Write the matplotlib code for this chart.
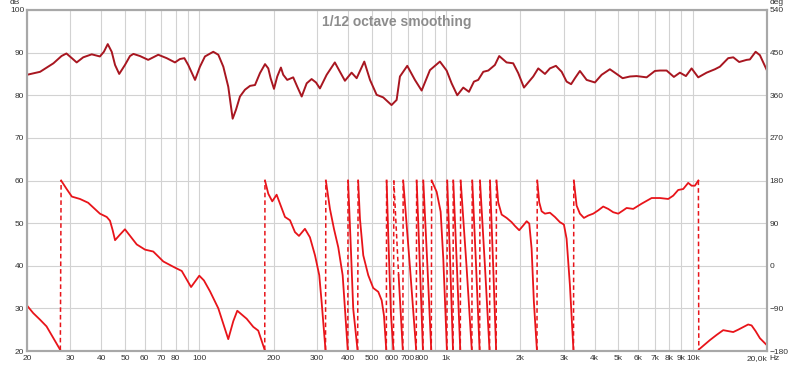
import numpy as np
import matplotlib
matplotlib.use("Agg")
import matplotlib.pyplot as plt
from matplotlib.ticker import NullLocator

plt.rcParams['font.family'] = ['Liberation Sans', 'DejaVu Sans']

# SPL curve (dB)
spl_freq = [20, 22.6, 25.6, 27.6, 28.9, 30.4, 31.8, 33.8, 36.6, 39.5, 41.0, 42.5, 44.1,
            45.5, 47.3, 49.9, 52.3, 54, 57.4, 62, 68.1, 73.7, 79.6, 83.4, 86.9, 90.1,
            96, 100.5, 105.3, 113.8, 119.3, 125, 130.9, 136.4, 140.7, 146, 153, 160.4,
            168, 176, 184.5, 190.2, 194.4, 200.6, 206.8, 214, 218.7, 227, 240, 249.3,
            259.8, 272.2, 285, 296.9, 308, 328, 354, 371.4, 389, 414, 434, 466, 491.6,
            523, 556, 601, 630.3, 650, 696, 747.6, 796, 860.2, 944, 1005, 1053, 1110,
            1174, 1238, 1297, 1350, 1415, 1483, 1577, 1642, 1759, 1871, 1961, 2069,
            2256, 2364, 2517, 2636, 2788, 2942, 3081, 3213, 3330, 3488, 3714, 4012,
            4272, 4614, 4914, 5196, 5565, 5920, 6502, 7025, 7361, 7835, 8385, 8870,
            9382, 9893, 10525, 11381, 12300, 12885, 13923, 14600, 15425, 16530, 17050,
            17985, 18720, 20000]
spl_db = [84.8, 85.5, 87.5, 89.2, 89.8, 88.7, 87.7, 88.9, 89.6, 89.1, 90.2, 92.0, 90.2,
          87.1, 85.0, 87.1, 89.2, 89.7, 89.2, 88.3, 89.5, 88.7, 87.7, 88.5, 88.7, 87.1,
          83.6, 86.7, 89.1, 90.2, 89.5, 86.7, 82.0, 74.5, 76.6, 79.7, 81.3, 82.2,
          82.4, 85.2, 87.3, 86.3, 84.0, 81.5, 84.4, 86.5, 84.8, 83.6, 84.2, 82.0,
          79.7, 82.8, 83.8, 83.0, 81.6, 84.8, 87.7, 85.5, 83.4, 85.3, 84.0, 87.9, 83.6,
          80.1, 79.5, 77.7, 78.9, 84.4, 86.9, 83.6, 81.1, 85.9, 87.9, 85.8, 82.8, 80.0,
          81.8, 80.8, 83.2, 83.6, 85.5, 85.8, 87.1, 89.2, 87.7, 87.5, 85.2, 81.8,
          84.4, 86.3, 85.0, 86.3, 86.9, 85.5, 83.2, 82.6, 84.0, 85.7, 83.6, 83.0,
          84.8, 86.1, 85.0, 84.0, 84.4, 84.5, 84.2, 85.7, 85.8, 85.8, 84.3, 85.3,
          84.5, 86.3, 84.2, 85.3, 86.1, 86.7, 88.7, 88.9, 87.8, 88.3, 88.4,
          90.2, 89.4, 85.8]

# wrapped phase (deg)
phase_freq = [20, 21.2, 22.6, 24.0, 27.3,
              27.5, 28.96, 30.4, 32.8, 35.4, 39.5, 42.1, 43.4, 44.5, 45.5, 47.5, 49.9, 55.7,
              60.2, 65.0, 71.4, 79.6, 84.8, 92.5, 99.9, 104.3, 110.4, 119.3, 130.9, 137.2,
              142.4, 155.5, 165.3, 173.2, 184.0,
              184.4, 190.2, 197.4, 205.6, 213.6, 222.3, 233.0, 244.0, 253.3, 267.8, 280.6,
              294.2, 306.1, 313.0, 324.5,
              325.5, 338.2, 351.1, 365.5, 380.8, 389.1, 399.5,
              400.5, 410.2, 420.3, 438,
              440, 447.6, 461.6, 483.6, 506.6, 530.9, 548.2, 560.0, 572.5,
              574, 584, 598, 612,
              614, 642, 668,
              670, 713, 757,
              759.8, 783, 806,
              808.2, 840, 871,
              874, 915.8, 950.6, 974.2, 998.8, 1008,
              1010.8, 1040, 1067,
              1069.2, 1106, 1142,
              1145.6, 1210, 1272,
              1276.6, 1323, 1368,
              1372, 1437, 1501,
              1506.4, 1552, 1596,
              1600.2, 1627, 1680, 1760, 1844, 1902, 1979, 2055, 2122, 2174, 2222, 2270, 2336,
              2342, 2386, 2440, 2516, 2636, 2762, 2894, 3004, 3080, 3177, 3285,
              3295, 3382, 3488, 3621, 3770, 3950, 4139, 4335, 4543, 4760, 4988, 5226, 5394,
              5735, 6203, 6813, 7361, 7954, 8334, 8730, 9148, 9584, 9894, 10203, 10540,
              10580, 11736, 12498, 13290, 14590, 15286, 16778, 17320, 17978, 18718, 20000]
phase_deg = [-84, -100, -114, -128, -178,
             180, 162, 146, 141, 133, 110, 103, 95, 75, 54, 65, 77, 45,
             34, 30, 9, -4, -11, -45, -21, -31, -54, -90, -155, -117,
             -95, -112, -129, -137, -178,
             180, 152, 136, 150, 127, 103, 96, 71, 63, 78, 60,
             22, -20, -77, -178,
             180, 120, 78, 39, -20, -91, -180,
             180, 50, -91, -180,
             180, 99, 22, -20, -47, -55, -73, -105, -180,
             180, 50, -105, -180,
             180, -20, -180,
             180, 0, -180,
             180, 0, -180,
             180, 0, -180,
             180, 156, 114, 15, -125, -180,
             180, 0, -180,
             180, 0, -180,
             180, 0, -180,
             180, 0, -180,
             180, 0, -180,
             180, 0, -180,
             180, 134, 108, 101, 92, 84, 75, 85, 94, 89, 36, -77, -180,
             180, 134, 115, 110, 112, 103, 92, 87, 57, -41, -180,
             180, 127, 110, 101, 106, 110, 117, 125, 120, 113, 110, 117, 122,
             120, 131, 143, 143, 141, 148, 160, 162, 175, 169, 169, 180,
             -177, -157, -146, -136, -140, -135, -124, -126, -138, -153, -168]

x_grid = [20, 30, 40, 50, 60, 70, 80, 90, 100, 200, 300, 400, 500, 600, 700, 800, 900,
          1000, 2000, 3000, 4000, 5000, 6000, 7000, 8000, 9000, 10000, 20000]
x_labels = ['20', '30', '40', '50', '60', '70', '80', '', '100', '200', '300', '400',
            '500', '600', '700', '800', '', '1k', '2k', '3k', '4k', '5k', '6k', '7k',
            '8k', '9k', '10k', '20,0k']
db_ticks = list(range(20, 101, 10))
deg_ticks = list(range(-180, 541, 90))

spl_color = '#a81620'
phase_color = '#e8141a'
grid_color = '#d2d2d2'
frame_color = '#a8a8a8'
text_color = '#333333'

fig = plt.figure(figsize=(8, 3.65), dpi=100)
ax = fig.add_axes([27 / 800, 14 / 365, 740 / 800, 341 / 365])
ax.set_xscale('log')
ax.set_xlim(20, 20000)
ax.set_ylim(20, 100)
ax.set_xticks(x_grid)
ax.set_xticklabels(x_labels)
ax.xaxis.set_minor_locator(NullLocator())
ax.set_yticks(db_ticks)
ax.grid(True, color=grid_color, lw=0.8)
ax.tick_params(length=0, labelsize=6, colors=text_color, pad=2)
ax.tick_params(axis='x', pad=3)
# last frequency label ends at the axis edge, unit follows it
ax.get_xticklabels()[-1].set_horizontalalignment('right')

ax2 = ax.twinx()
ax2.set_ylim(-180, 540)
ax2.set_yticks(deg_ticks)
ax2.tick_params(length=0, labelsize=6, colors=text_color, pad=2)

for a in (ax, ax2):
    for sp in a.spines.values():
        sp.set_color(frame_color)
        sp.set_linewidth(1.5)

# SPL
ax.plot(spl_freq, spl_db, color=spl_color, lw=1.4)

# phase: solid pieces, dashed jumps at the wraps
pf = np.array(phase_freq)
pd_ = np.array(phase_deg)
jumps = np.where(np.abs(np.diff(pd_)) > 180)[0]
start = 0
for j in list(jumps) + [len(pf) - 1]:
    ax2.plot(pf[start:j + 1], pd_[start:j + 1], color=phase_color, lw=1.3)
    start = j + 1
for j in jumps:
    ax2.plot(pf[j:j + 2], pd_[j:j + 2], color=phase_color, lw=1.1, ls=(0, (3, 2)))

ax.text(0.5, 0.985, '1/12 octave smoothing', transform=ax.transAxes, ha='center',
        va='top', fontsize=10, fontweight='bold', color='#8c8c8c')
fig.text(15 / 800, 1 - 3 / 365, 'dB', fontsize=6, color=text_color, ha='center', va='center')
fig.text(777 / 800, 1 - 3 / 365, 'deg', fontsize=6, color=text_color, ha='center', va='center')
fig.text(769 / 800, 7 / 365, 'Hz', fontsize=6, color=text_color, ha='left', va='center')

fig.savefig('out.png', dpi=100)
